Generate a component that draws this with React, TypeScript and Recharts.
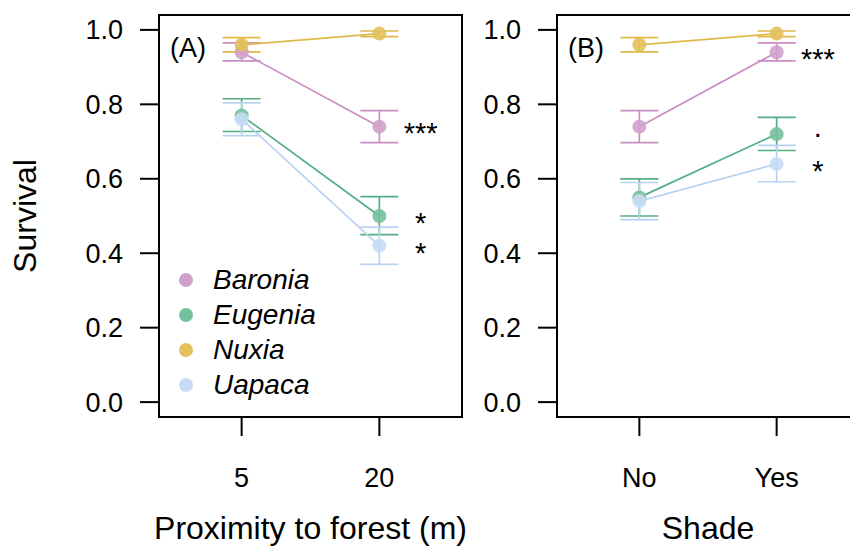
import React from "react";
import {
  ComposedChart,
  Line,
  XAxis,
  YAxis,
  ErrorBar,
  ReferenceArea,
  Scatter,
  Legend,
} from "recharts";

const FONT = '"Liberation Sans", Arial, Helvetica, sans-serif';

const species = ["Baronia", "Eugenia", "Nuxia", "Uapaca"];
const speciesFill = ["#d0a0cb", "#76c09d", "#e2c05a", "#c6dbf5"];
const speciesLine = ["#c98fc3", "#52ae84", "#dfb948", "#b8d2f2"];

const proximityLevels = ["5", "20"];
const shadeLevels = ["No", "Yes"];
const yTicks = [0, 0.2, 0.4, 0.6, 0.8, 1.0];

// (A) survival by proximity to forest: mean, [lower, upper]
const baroniaProx = [0.94, 0.74];
const baroniaProxCI = [[0.917, 0.965], [0.697, 0.783]];
const eugeniaProx = [0.77, 0.5];
const eugeniaProxCI = [[0.727, 0.815], [0.45, 0.552]];
const nuxiaProx = [0.96, 0.99];
const nuxiaProxCI = [[0.941, 0.979], [0.982, 0.997]];
const uapacaProx = [0.76, 0.42];
const uapacaProxCI = [[0.716, 0.804], [0.37, 0.47]];
const proxSig = ["***", "*", "", "*"];

// (B) survival by shade
const baroniaShade = [0.74, 0.94];
const baroniaShadeCI = [[0.697, 0.783], [0.917, 0.965]];
const eugeniaShade = [0.55, 0.72];
const eugeniaShadeCI = [[0.5, 0.6], [0.676, 0.765]];
const nuxiaShade = [0.96, 0.99];
const nuxiaShadeCI = [[0.941, 0.979], [0.982, 0.997]];
const uapacaShade = [0.54, 0.64];
const uapacaShadeCI = [[0.49, 0.59], [0.592, 0.69]];
const shadeSig = ["***", ".", "", "*"];

const X_DOMAIN: [number, number] = [0.4, 2.6];
const Y_DOMAIN: [number, number] = [-0.04, 1.04];
const SIG_X = 2.3;

function buildSeries(means: number[][], cis: number[][][]) {
  return means.map((m, s) =>
    m.map((v, i) => ({
      x: i + 1,
      y: v,
      err: [v - cis[s][i][0], cis[s][i][1] - v],
    }))
  );
}

function buildSig(means: number[][], sig: string[]) {
  return sig
    .map((label, s) => ({ x: SIG_X, y: means[s][1], label }))
    .filter((d) => d.label);
}

const SigText = (props: any) => {
  const { cx, cy, payload } = props;
  const fs = 29;
  const dy = payload.label === "." ? 3 : fs * 0.58;
  return (
    <text
      x={cx}
      y={cy + dy}
      textAnchor="middle"
      fontSize={fs}
      fontFamily={FONT}
      fill="#000"
    >
      {payload.label}
    </text>
  );
};

const renderLegend = () => (
  <div style={{ fontFamily: FONT, color: "#000" }}>
    {species.map((name, i) => (
      <div
        key={name}
        style={{ display: "flex", alignItems: "center", height: 35 }}
      >
        <svg width={20} height={20}>
          <circle cx={10} cy={10} r={7} fill={speciesFill[i]} />
        </svg>
        <span
          style={{
            marginLeft: 17,
            fontSize: 28,
            fontStyle: "italic",
            lineHeight: "35px",
          }}
        >
          {name}
        </span>
      </div>
    ))}
  </div>
);

interface PanelProps {
  tag: string;
  levels: string[];
  means: number[][];
  cis: number[][][];
  sig: string[];
  xTitle: string;
  yTitle?: string;
  left: number;
  width: number;
  yWidth: number;
  rightMargin: number;
  legend?: boolean;
}

function Panel({
  tag,
  levels,
  means,
  cis,
  sig,
  xTitle,
  yTitle,
  left,
  width,
  yWidth,
  rightMargin,
  legend,
}: PanelProps) {
  const series = buildSeries(means, cis);
  const sigData = buildSig(means, sig);
  return (
    <div style={{ position: "absolute", left, top: 0 }}>
      <ComposedChart
        width={width}
        height={548}
        margin={{ top: 15, right: rightMargin, bottom: 0, left: 0 }}
      >
        <XAxis
          type="number"
          dataKey="x"
          domain={X_DOMAIN}
          ticks={[1, 2]}
          tickFormatter={(v: number) => levels[v - 1]}
          axisLine={false}
          tickLine={{ stroke: "#000", strokeWidth: 2 }}
          tickSize={19}
          tickMargin={32}
          height={131}
          tick={{ fill: "#000", fontSize: 27, fontFamily: FONT }}
          label={{
            value: xTitle,
            position: "insideBottom",
            offset: 9,
            fill: "#000",
            fontSize: 32,
            fontFamily: FONT,
          }}
        />
        <YAxis
          type="number"
          dataKey="y"
          domain={Y_DOMAIN}
          ticks={yTicks}
          tickFormatter={(v: number) => v.toFixed(1)}
          axisLine={false}
          tickLine={{ stroke: "#000", strokeWidth: 2 }}
          tickSize={19}
          tickMargin={17}
          width={yWidth}
          tick={{ fill: "#000", fontSize: 27, fontFamily: FONT }}
          label={
            yTitle
              ? {
                  value: yTitle,
                  angle: -90,
                  position: "insideLeft",
                  offset: 25,
                  fill: "#000",
                  fontSize: 32,
                  fontFamily: FONT,
                  style: { textAnchor: "middle" },
                }
              : undefined
          }
        />
        <ReferenceArea
          x1={X_DOMAIN[0]}
          x2={X_DOMAIN[1]}
          y1={Y_DOMAIN[0]}
          y2={Y_DOMAIN[1]}
          fill="none"
          stroke="#000"
          strokeWidth={2}
          label={(p: any) => (
            <text
              x={p.viewBox.x + 11}
              y={p.viewBox.y + 42}
              fontSize={27}
              fontFamily={FONT}
              fill="#000"
            >
              {tag}
            </text>
          )}
        />
        {series.map((d, s) => (
          <Line
            key={species[s]}
            data={d}
            dataKey="y"
            name={species[s]}
            stroke={speciesLine[s]}
            strokeWidth={1.7}
            dot={{ r: 7, fill: speciesFill[s], fillOpacity: 0.9, stroke: "none" }}
            activeDot={false}
            isAnimationActive={false}
          >
            <ErrorBar
              dataKey="err"
              direction="y"
              width={19}
              stroke={speciesLine[s]}
              strokeWidth={1.7}
            />
          </Line>
        ))}
        <Scatter
          data={sigData}
          dataKey="y"
          shape={SigText}
          isAnimationActive={false}
        />
        {legend && (
          <Legend
            layout="vertical"
            align="center"
            verticalAlign="middle"
            content={renderLegend}
            wrapperStyle={{ left: 176, top: 262, width: 200, height: 140 }}
          />
        )}
      </ComposedChart>
    </div>
  );
}

export default function App() {
  return (
    <div
      style={{
        position: "absolute",
        left: 0,
        top: 0,
        width: 850,
        height: 548,
        overflow: "hidden",
        background: "#fff",
      }}
    >
      <Panel
        tag="(A)"
        levels={proximityLevels}
        means={[baroniaProx, eugeniaProx, nuxiaProx, uapacaProx]}
        cis={[baroniaProxCI, eugeniaProxCI, nuxiaProxCI, uapacaProxCI]}
        sig={proxSig}
        xTitle="Proximity to forest (m)"
        yTitle="Survival"
        left={0}
        width={470}
        yWidth={159}
        rightMargin={8}
        legend
      />
      <Panel
        tag="(B)"
        levels={shadeLevels}
        means={[baroniaShade, eugeniaShade, nuxiaShade, uapacaShade]}
        cis={[baroniaShadeCI, eugeniaShadeCI, nuxiaShadeCI, uapacaShadeCI]}
        sig={shadeSig}
        xTitle="Shade"
        left={470}
        width={400}
        yWidth={87}
        rightMargin={11}
      />
    </div>
  );
}
